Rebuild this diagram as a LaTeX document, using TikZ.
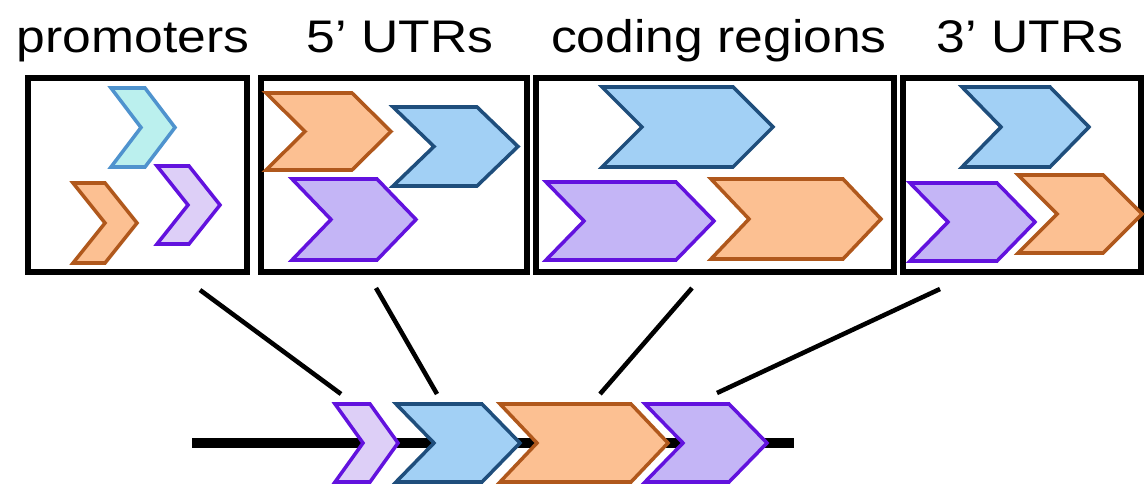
\documentclass[tikz,border=0pt]{standalone}
\usepackage{fontspec}
\setmainfont{Liberation Sans}

\definecolor{orfill}{HTML}{FCC092}
\definecolor{ordraw}{HTML}{B0581C}
\definecolor{blfill}{HTML}{A2D0F5}
\definecolor{bldraw}{HTML}{1F4E7C}
\definecolor{pufill}{HTML}{C4B5F6}
\definecolor{pudraw}{HTML}{6212DE}
\definecolor{cyfill}{HTML}{BBF0EE}
\definecolor{cydraw}{HTML}{4F93CE}
\definecolor{lpfill}{HTML}{DDCFF7}

\tikzset{
  panel/.style={draw=black,line width=3pt},
  heading/.style={anchor=base,xscale=1.13,font=\fontsize{26}{30}\selectfont},
  orchev/.style={fill=orfill,draw=ordraw,line width=2pt,line join=miter},
  blchev/.style={fill=blfill,draw=bldraw,line width=2pt,line join=miter},
  puchev/.style={fill=pufill,draw=pudraw,line width=2pt,line join=miter},
  cychev/.style={fill=cyfill,draw=cydraw,line width=2pt,line join=miter},
  lpchev/.style={fill=lpfill,draw=pudraw,line width=2pt,line join=miter},
  link/.style={draw=black,line width=2.6pt}
}

% style, left x, top y, body width, point depth, height
\newcommand{\chev}[6]{%
  \draw[#1] (#2,#3) -- ++(#4,0) -- ++(#5,{#6/2}) -- ++(-#5,{#6/2})
    -- ++(-#4,0) -- ++(#5,{-#6/2}) -- cycle;}

\begin{document}
\begin{tikzpicture}[x=0.02cm,y=-0.02cm]
  \useasboundingbox (0,0) rectangle (1148,486);

  % headings
  \node[heading] (promtext) at (133,53) {promoters};
  \node[heading] (fivetext) at (400,53) {5’ UTRs};
  \node[heading] (codetext) at (719,53) {coding regions};
  \node[heading] (threetext) at (1030,53) {3’ UTRs};

  % panels
  \draw[panel] (28,78) rectangle (247,272);
  \draw[panel] (261,78) rectangle (527,272);
  \draw[panel] (536,78) rectangle (894,272);
  \draw[panel] (903,78) rectangle (1141,272);

  % promoters
  \chev{cychev}{111}{88}{34}{30}{79}
  \chev{orchev}{73}{183}{32}{32}{80}
  \chev{lpchev}{157}{166}{32}{31}{78}

  % 5' UTRs
  \chev{orchev}{266}{93}{86}{39}{77}
  \chev{blchev}{393}{107}{84}{41}{79}
  \chev{puchev}{292}{179}{85}{39}{81}

  % coding regions
  \chev{blchev}{602}{87}{131}{40}{80}
  \chev{puchev}{546}{182}{130}{38}{78}
  \chev{orchev}{711}{179}{132}{38}{80}

  % 3' UTRs
  \chev{blchev}{962}{87}{88}{39}{80}
  \chev{puchev}{910}{183}{87}{38}{78}
  \chev{orchev}{1018}{175}{85}{39}{78}

  % gene
  \coordinate (genestart) at (192,443);
  \coordinate (geneend) at (794,443);
  \draw[line width=5.5pt] (genestart) -- (geneend);
  \chev{lpchev}{335}{404}{35}{28}{78}
  \chev{blchev}{396}{404}{86}{38}{78}
  \chev{orchev}{500}{404}{131}{37}{78}
  \chev{puchev}{645}{404}{84}{38}{78}

  % links
  \coordinate (prombot) at (200,290);
  \coordinate (fivebot) at (376,288);
  \coordinate (codebot) at (692,288);
  \coordinate (threebot) at (940,289);
  \coordinate (promgene) at (341,394);
  \coordinate (fivegene) at (437,394);
  \coordinate (codegene) at (600,394);
  \coordinate (threegene) at (717,393);
  \draw[link] (prombot) -- (promgene);
  \draw[link] (fivebot) -- (fivegene);
  \draw[link] (codebot) -- (codegene);
  \draw[link] (threebot) -- (threegene);
\end{tikzpicture}
\end{document}
